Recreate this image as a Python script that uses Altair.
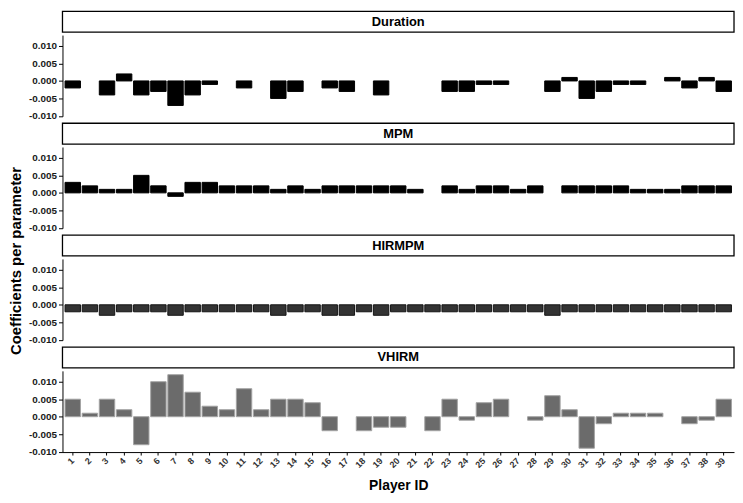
import altair as alt
import pandas as pd

players = list(range(1, 40))

panel_names = ["Duration", "MPM", "HIRMPM", "VHIRM"]

duration = [-0.002, None, -0.004, 0.002, -0.004, -0.003, -0.007, -0.004, -0.001, None,
            -0.002, None, -0.005, -0.003, None, -0.002, -0.003, None, -0.004, None,
            None, None, -0.003, -0.003, -0.001, -0.001, None, None, -0.003, 0.001,
            -0.005, -0.003, -0.001, -0.001, None, 0.001, -0.002, 0.001, -0.003]

mpm = [0.003, 0.002, 0.001, 0.001, 0.005, 0.002, -0.001, 0.003, 0.003, 0.002,
       0.002, 0.002, 0.001, 0.002, 0.001, 0.002, 0.002, 0.002, 0.002, 0.002,
       0.001, None, 0.002, 0.001, 0.002, 0.002, 0.001, 0.002, None, 0.002,
       0.002, 0.002, 0.002, 0.001, 0.001, 0.001, 0.002, 0.002, 0.002]

hirmpm = [-0.002, -0.002, -0.003, -0.002, -0.002, -0.002, -0.003, -0.002, -0.002, -0.002,
          -0.002, -0.002, -0.003, -0.002, -0.002, -0.003, -0.003, -0.002, -0.003, -0.002,
          -0.002, -0.002, -0.002, -0.002, -0.002, -0.002, -0.002, -0.002, -0.003, -0.002,
          -0.002, -0.002, -0.002, -0.002, -0.002, -0.002, -0.002, -0.002, -0.002]

vhirm = [0.005, 0.001, 0.005, 0.002, -0.008, 0.010, 0.012, 0.007, 0.003, 0.002,
         0.008, 0.002, 0.005, 0.005, 0.004, -0.004, None, -0.004, -0.003, -0.003,
         None, -0.004, 0.005, -0.001, 0.004, 0.005, None, -0.001, 0.006, 0.002,
         -0.009, -0.002, 0.001, 0.001, 0.001, None, -0.002, -0.001, 0.005]

y_ticks = [-0.010, -0.005, 0.000, 0.005, 0.010]
y_title = "Coefficients per parameter"

series = [duration, mpm, hirmpm, vhirm]
fills = ["#000000", "#000000", "#333333", "#6b6b6b"]
strokes = ["#000000", "#000000", "#141414", "#a3a3a3"]

W = 678
H = 82
FONT = "Liberation Sans"

y_label_expr = "datum.value < 0 ? '-' + format(-datum.value, '.3f') : format(datum.value, '.3f')"

panels = []
for i, (name, vals) in enumerate(zip(panel_names, series)):
    df = pd.DataFrame({"player": players, "value": vals, "panel": name})
    last = i == len(panel_names) - 1

    if last:
        x_axis = alt.Axis(
            title="Player ID", labelAngle=315, labelAlign="right", labelBaseline="middle",
            labelFontSize=9, labelFont=FONT, labelFontWeight="bold", labelColor="#333333",
            labelPadding=4, tickSize=3, tickColor="#000000", domainColor="#000000",
            titleFont=FONT, titleFontSize=14, titleFontWeight="bold", titleColor="#000000",
            titleY=38, titleBaseline="alphabetic", grid=False,
        )
    else:
        x_axis = None

    y_axis = alt.Axis(
        title=None, values=y_ticks, labelExpr=y_label_expr,
        labelFont=FONT, labelFontSize=10, labelFontWeight="bold", labelColor="#1a1a1a",
        tickSize=4, tickColor="#000000", domainColor="#000000", labelPadding=2, grid=False,
    )

    bars = alt.Chart(df).mark_bar(
        fill=fills[i], stroke=strokes[i], strokeWidth=1
    ).encode(
        x=alt.X("player:O", scale=alt.Scale(domain=players, paddingInner=0.1, paddingOuter=0.15),
                axis=x_axis),
        y=alt.Y("value:Q", scale=alt.Scale(domain=[-0.0101, 0.0131], nice=False, zero=False),
                axis=y_axis),
    )

    strip_df = pd.DataFrame({"panel": [name]})
    strip = alt.Chart(strip_df).mark_rect(
        fill="white", stroke="#000000", strokeWidth=1.3
    ).encode(
        x=alt.value(0), x2=alt.value(W), y=alt.value(-24), y2=alt.value(-3)
    )
    strip_text = alt.Chart(strip_df).mark_text(
        font=FONT, fontSize=13, fontWeight="bold", color="#000000", baseline="middle", align="center"
    ).encode(
        x=alt.value(W / 2), y=alt.value(-13.5), text="panel:N"
    )

    panels.append(alt.layer(strip, strip_text, bars).properties(width=W, height=H))

grid = alt.vconcat(*panels, spacing=1)

title_df = pd.DataFrame({"t": [y_title]})
title_chart = alt.Chart(title_df).mark_text(
    font=FONT, fontSize=15, fontWeight="bold", color="#000000",
    angle=270, align="center", baseline="middle"
).encode(
    x=alt.value(8), y=alt.value(228), text="t:N"
).properties(width=15, height=430)

chart = alt.hconcat(title_chart, grid, spacing=3).properties(
    padding={"left": 0, "top": 0, "right": 0, "bottom": 0}
).configure_view(strokeWidth=0)

chart.save("out.html", embed_options={"renderer": "svg", "actions": False})
